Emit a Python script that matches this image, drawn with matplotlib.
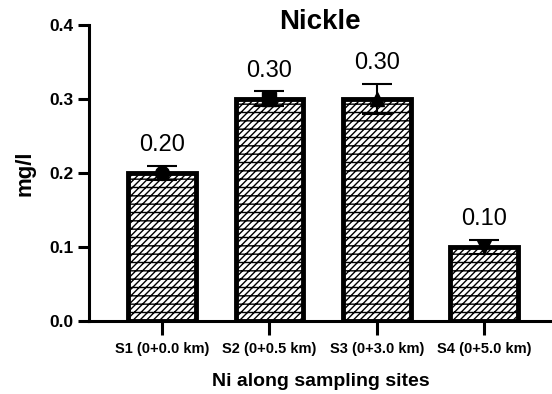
import matplotlib
matplotlib.use("Agg")
import matplotlib.pyplot as plt

plt.rcParams['font.family'] = ['Liberation Sans', 'DejaVu Sans']
plt.rcParams['hatch.linewidth'] = 1.0

sites = ["S1 (0+0.0 km)", "S2 (0+0.5 km)", "S3 (0+3.0 km)", "S4 (0+5.0 km)"]
values = [0.20, 0.30, 0.30, 0.10]
errors = [0.01, 0.01, 0.02, 0.01]
markers = ["o", "s", "^", "v"]
labels = ["0.20", "0.30", "0.30", "0.10"]
yticks = [0.0, 0.1, 0.2, 0.3, 0.4]

fig = plt.figure(figsize=(5.52, 3.94), dpi=100)
ax = fig.add_axes([0.161, 0.185, 0.839, 0.752])

x = list(range(len(sites)))
ax.bar(x, values, width=0.63, color="white", edgecolor="black", linewidth=3.5,
       hatch="/////--", zorder=2)
for xi, v, e, m, lab in zip(x, values, errors, markers, labels):
    ax.errorbar(xi, v, yerr=e, fmt="none", ecolor="black", elinewidth=1.5,
                capsize=11, capthick=1.5, zorder=3)
    ax.plot(xi, v, marker=m, color="black", markersize=10, zorder=4)
    ax.text(xi, v + e + 0.013, lab, ha="center", va="bottom", fontsize=17)

ax.set_xlim(-0.68, 3.63)
ax.set_ylim(0, 0.4)
ax.set_yticks(yticks)
ax.set_yticklabels([f"{t:.1f}" for t in yticks], fontweight="bold", fontsize=12.5)
ax.set_xticks(x)
ax.set_xticklabels(sites, fontweight="bold", fontsize=10.5)
ax.spines["top"].set_visible(False)
ax.spines["right"].set_visible(False)
ax.spines["left"].set_linewidth(2.2)
ax.spines["bottom"].set_linewidth(2.2)
ax.tick_params(axis="y", width=2.2, length=8, pad=3)
ax.tick_params(axis="x", width=2.2, length=10, pad=5)
ax.set_xlabel("Ni along sampling sites", fontweight="bold", fontsize=14, labelpad=12)
ax.set_ylabel("mg/l", fontweight="bold", fontsize=16, labelpad=10)
fig.text(320 / 552, 1 - 22 / 394, "Nickle", fontweight="bold", fontsize=20,
         ha="center", va="center")

fig.savefig("out.png", dpi=100)
